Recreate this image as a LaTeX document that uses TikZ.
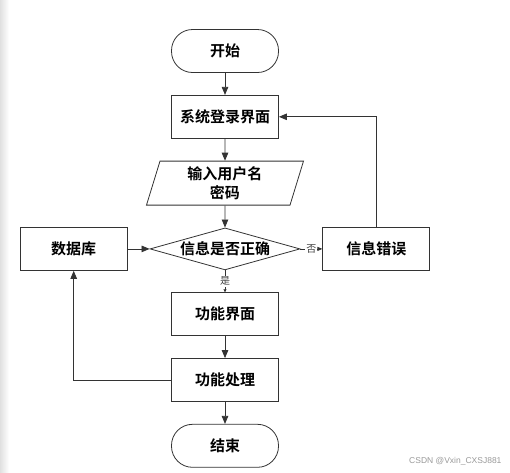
\documentclass[tikz,border=0pt]{standalone}
\usepackage{fontspec}
\newfontfamily\cjk{Noto Sans CJK SC}[BoldFont={Noto Sans CJK SC Bold}]
\setsansfont{Liberation Sans}
\usetikzlibrary{arrows.meta, positioning, shapes.geometric}

\begin{document}
\begin{tikzpicture}[x=1pt, y=-1pt,
          node distance = 22pt and 22pt,
          base/.style = {draw=black!80, line width=0.8pt,
                        minimum width=107pt, minimum height=43pt,
                        align=center, inner sep=2pt,
                        font=\cjk\bfseries\fontsize{15}{19}\selectfont},
          box/.style = {base, rectangle},
          term/.style = {base, rectangle, rounded corners=21pt},
          io/.style = {base, trapezium, trapezium left angle=69,
                        trapezium right angle=111, trapezium stretches body,
                        minimum width=157pt, minimum height=44pt, inner sep=1pt},
          decision/.style = {base, diamond, aspect=3.57, inner sep=0pt,
                        minimum width=150pt, minimum height=42pt},
          lbl/.style = {font=\cjk\fontsize{10}{11}\selectfont, fill=white,
                        inner sep=1pt, text=black!75},
          line/.style = {draw=black!80, line width=0.8pt},
          >={Triangle[length=8pt, width=6.5pt]}]
        \useasboundingbox (0,0) rectangle (510,472);
        \shade[left color=black!12, right color=white] (0,0) rectangle (9,472);
        % main column
        \node[term] (start) at (225,51) {开始};
        \node[box, below=of start] (login) {系统登录界面};
        \node[io, below=of login]  (input) {输入用户名\\密码};
        \node[decision, below=of input] (check) {信息是否正确};
        \node[box, left=of check]  (db)    {数据库};
        \node[box, right=of check] (err)   {信息错误};
        \node[box, below=of check] (menu)  {功能界面};
        \node[box, below=of menu]  (proc)  {功能处理};
        \node[term, below=of proc] (end)   {结束};
        % connectors
        \draw[line, ->] (start) -- (login);
        \draw[line, ->] (login) -- (input);
        \draw[line, ->] (input) -- (check);
        \draw[line, ->] (db)    -- (check);
        \draw[line, -{Triangle[length=5pt, width=4pt]}] (check) -- node[lbl] {否} (err);
        \draw[line, -{Triangle[length=3pt, width=3pt]}] (check) -- node[lbl] {是} (menu);
        \draw[line, ->] (menu)  -- (proc);
        \draw[line, ->] (proc)  -- (end);
        \draw[line, ->] (err.north) |- (login.east);
        \draw[line, ->] (proc.west) -| (db.south);
        % watermark
        \node[font=\sffamily\fontsize{8.5}{10}\selectfont, text=black!40,
              anchor=east] (mark) at (505,461) {CSDN @Vxin\_CXSJ881};
\end{tikzpicture}
\end{document}
